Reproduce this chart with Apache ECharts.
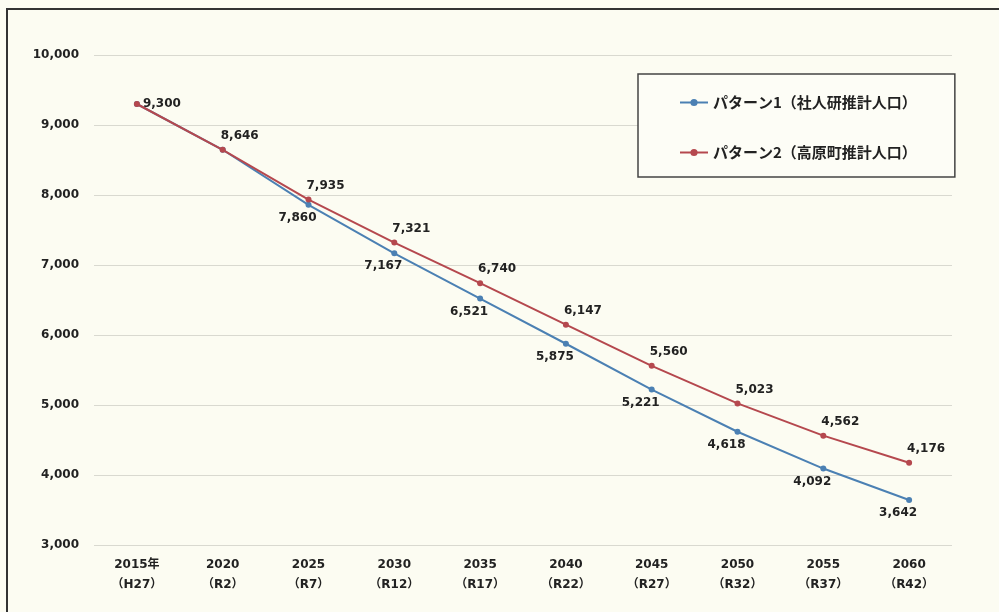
<!DOCTYPE html>
<html>
<head>
<meta charset="utf-8">
<script src="https://cdn.jsdelivr.net/npm/echarts@6/dist/echarts.min.js"></script>
<style>
html,body{margin:0;padding:0;background:#fcfcf2;}
#chart{width:999px;height:612px;}
</style>
</head>
<body>
<div id="chart"></div>
<script>
const categories = ['2015年\n（H27）','2020\n（R2）','2025\n（R7）','2030\n（R12）','2035\n（R17）','2040\n（R22）','2045\n（R27）','2050\n（R32）','2055\n（R37）','2060\n（R42）'];
const pattern1Name = 'パターン1（社人研推計人口）';
const pattern2Name = 'パターン2（高原町推計人口）';
const pattern1 = [9300, 8646, 7860, 7167, 6521, 5875, 5221, 4618, 4092, 3642];
const pattern2 = [9300, 8646, 7935, 7321, 6740, 6147, 5560, 5023, 4562, 4176];
const yMin = 3000, yMax = 10000, yStep = 1000;

const fontFam = '"DejaVu Sans","Noto Sans CJK JP",sans-serif';
const fmt = v => Number(v).toLocaleString('en-US');

const chart = echarts.init(document.getElementById('chart'));
chart.setOption({
  backgroundColor: '#fcfcf2',
  animation: false,
  graphic: [{
    type: 'rect',
    shape: {x: 7, y: 9, width: 1010, height: 700},
    style: {fill: 'none', stroke: '#333', lineWidth: 2},
    silent: true
  }],
  grid: {left: 94, right: 47, top: 55, bottom: 67},
  legend: {
    orient: 'vertical',
    left: 638, top: 74,
    padding: [21, 38, 17, 41],
    itemGap: 35,
    itemWidth: 28, itemHeight: 9,
    borderColor: '#444', borderWidth: 1.5,
    backgroundColor: '#fdfdf6',
    textStyle: {fontFamily: '"Noto Sans CJK JP",sans-serif', fontWeight: 'bold', fontSize: 15, color: '#222'},
    data: [pattern1Name, pattern2Name]
  },
  xAxis: {
    type: 'category',
    data: categories,
    boundaryGap: true,
    axisLine: {show: false},
    axisTick: {show: false},
    axisLabel: {margin: 10, fontFamily: fontFam, fontWeight: 'bold', fontSize: 12, color: '#222', lineHeight: 20}
  },
  yAxis: {
    type: 'value',
    min: yMin, max: yMax, interval: yStep,
    axisLine: {show: false},
    axisTick: {show: false},
    splitLine: {lineStyle: {color: '#d9d9d0', width: 1}},
    axisLabel: {margin: 15, fontFamily: fontFam, fontWeight: 'bold', fontSize: 12, color: '#222', formatter: fmt}
  },
  series: [
    {
      name: pattern1Name,
      type: 'line',
      data: pattern1.map((v, i) => i < 2 ? {value: v, label: {show: false}} : v),
      color: '#4b80b3',
      symbol: 'circle', symbolSize: 6,
      lineStyle: {width: 2},
      label: {show: true, position: 'bottom', distance: 4, offset: [-11, 0], formatter: p => fmt(p.value),
        fontFamily: fontFam, fontWeight: 'bold', fontSize: 12, color: '#222'},
      z: 2
    },
    {
      name: pattern2Name,
      type: 'line',
      data: pattern2.map((v, i) => i === 0 ? {value: v, label: {position: 'right', offset: [0, 0], distance: 3}} : v),
      color: '#b5484e',
      symbol: 'circle', symbolSize: 6,
      lineStyle: {width: 2},
      label: {show: true, position: 'top', distance: 5, offset: [17, 0], formatter: p => fmt(p.value),
        fontFamily: fontFam, fontWeight: 'bold', fontSize: 12, color: '#222'},
      z: 3
    }
  ]
});
</script>
</body>
</html>
